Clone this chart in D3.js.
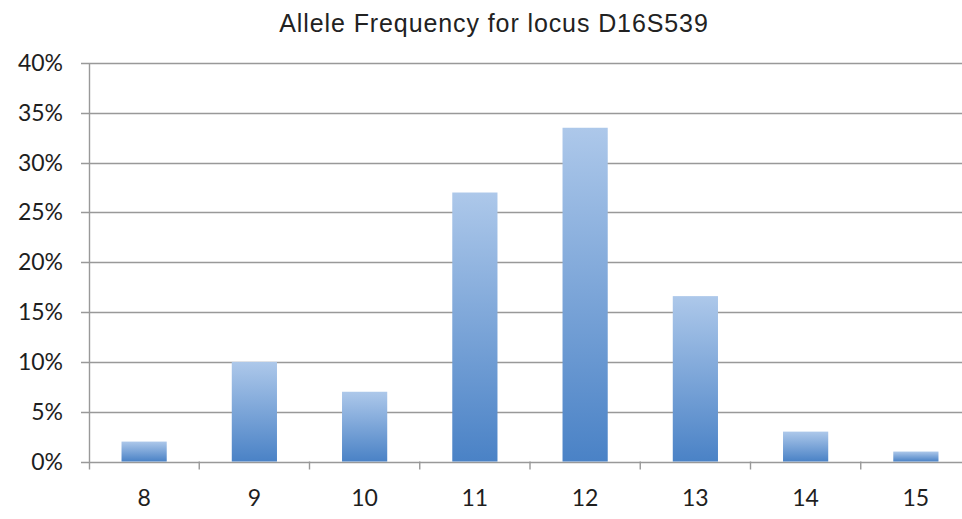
<!DOCTYPE html>
<html>
<head>
<meta charset="utf-8">
<script src="https://cdn.jsdelivr.net/npm/d3@7"></script>
<style>
  body { margin: 0; background: #fff; }
  svg { display: block; }
</style>
</head>
<body>
<div id="chart"></div>
<script>
var width = 962;
var height = 519;
var margin = {top: 63, right: -9, bottom: 57, left: 89};

var alleles = ["8", "9", "10", "11", "12", "13", "14", "15"];
var frequency = [0.02, 0.10, 0.07, 0.27, 0.335, 0.166, 0.03, 0.01];
var yTicks = [0, 0.05, 0.10, 0.15, 0.20, 0.25, 0.30, 0.35, 0.40];

var svg = d3.select("#chart")
            .append("svg")
            .attr("width", width)
            .attr("height", height);

var defs = svg.append("defs");
var grad = defs.append("linearGradient")
               .attr("id", "barFill")
               .attr("x1", 0).attr("y1", 0)
               .attr("x2", 0).attr("y2", 1);
grad.append("stop").attr("offset", "0%").attr("stop-color", "#adc8ea");
grad.append("stop").attr("offset", "100%").attr("stop-color", "#4a82c6");

var x = d3.scaleBand()
          .domain(alleles)
          .range([margin.left, width - margin.right])
          .paddingInner(0.59)
          .paddingOuter(0.295);

var y = d3.scaleLinear()
          .domain([0, 0.40])
          .range([height - margin.bottom - 0.5, margin.top]);

// gridlines
svg.append("g")
   .selectAll("line")
   .data(yTicks)
   .enter()
   .append("line")
   .attr("x1", margin.left - 8)
   .attr("x2", width)
   .attr("y1", d => Math.round(y(d)) + 0.5)
   .attr("y2", d => Math.round(y(d)) + 0.5)
   .attr("stroke", "#999")
   .attr("stroke-width", 1.4);

// y labels
svg.append("g")
   .selectAll("text")
   .data(yTicks)
   .enter()
   .append("text")
   .attr("x", 63)
   .attr("y", d => y(d) + 8)
   .attr("text-anchor", "end")
   .style("font-family", "Lato, 'Open Sans', sans-serif")
   .style("font-size", "23px")
   .style("fill", "#1e1e1e")
   .text(d3.format(".0%"));

// bars
svg.append("g")
   .selectAll("rect")
   .data(frequency)
   .enter()
   .append("rect")
   .attr("x", (d, i) => x(alleles[i]))
   .attr("width", x.bandwidth())
   .attr("y", d => y(d))
   .attr("height", d => y(0) - y(d))
   .attr("fill", "url(#barFill)");

// y axis line
svg.append("line")
   .attr("x1", margin.left + 0.5)
   .attr("x2", margin.left + 0.5)
   .attr("y1", margin.top)
   .attr("y2", y(0) + 8)
   .attr("stroke", "#999")
   .attr("stroke-width", 1.4);

// x tick marks between categories
var step = x.step();
svg.append("g")
   .selectAll("line")
   .data(alleles.slice(1))
   .enter()
   .append("line")
   .attr("x1", (d, i) => margin.left + step * (i + 1))
   .attr("x2", (d, i) => margin.left + step * (i + 1))
   .attr("y1", y(0))
   .attr("y2", y(0) + 8)
   .attr("stroke", "#999")
   .attr("stroke-width", 1.4);

// x labels
svg.append("g")
   .selectAll("text")
   .data(alleles)
   .enter()
   .append("text")
   .attr("x", d => x(d) + x.bandwidth() / 2)
   .attr("y", 506)
   .attr("text-anchor", "middle")
   .style("font-family", "Lato, 'Open Sans', sans-serif")
   .style("font-size", "23px")
   .style("fill", "#1e1e1e")
   .text(d => d);

// title
svg.append("text")
   .attr("x", 494)
   .attr("y", 32)
   .attr("text-anchor", "middle")
   .style("font-family", "'Liberation Sans', Arial, sans-serif")
   .style("font-size", "25px")
   .style("letter-spacing", "0.9px")
   .style("fill", "#222")
   .text("Allele Frequency for locus D16S539");
</script>
</body>
</html>
